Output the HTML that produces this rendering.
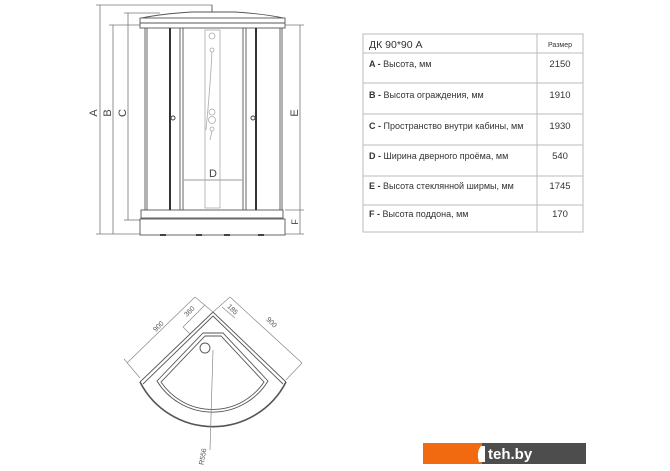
<!DOCTYPE html>
<html><head><meta charset="utf-8"><style>
body{margin:0;background:#fff;}
svg{display:block;font-family:"Liberation Sans",sans-serif;}
</style></head><body>
<svg width="670" height="471" viewBox="0 0 670 471" xmlns="http://www.w3.org/2000/svg">
<g fill="none" stroke="#777" stroke-width="0.8">
<line x1="100" y1="5" x2="100" y2="234"/>
<line x1="96" y1="5" x2="212" y2="5"/>
<line x1="96" y1="234" x2="140" y2="234"/>
<line x1="113" y1="25" x2="113" y2="234"/>
<line x1="109" y1="25" x2="140" y2="25"/>
<line x1="128" y1="13" x2="128" y2="220"/>
<line x1="124" y1="13" x2="160" y2="13"/>
<line x1="124" y1="220" x2="140" y2="220"/>
<line x1="300" y1="25" x2="300" y2="234"/>
<line x1="285" y1="25" x2="304" y2="25"/>
<line x1="285" y1="210" x2="304" y2="210"/>
<line x1="285" y1="234" x2="304" y2="234"/>
<line x1="184" y1="180" x2="242" y2="180"/>
</g>
<g fill="#444" font-size="11">
<text transform="translate(97,113) rotate(-90)" text-anchor="middle">A</text>
<text transform="translate(111,113) rotate(-90)" text-anchor="middle">B</text>
<text transform="translate(126,113) rotate(-90)" text-anchor="middle">C</text>
<text transform="translate(298,113) rotate(-90)" text-anchor="middle">E</text>
<text transform="translate(298,222) rotate(-90)" text-anchor="middle" font-size="9">F</text>
<text x="213" y="177" text-anchor="middle">D</text>
</g>
<g fill="none" stroke="#555" stroke-width="0.9">
<path d="M142 18 Q160 14 192 12 L235 12 Q265 14 283 18"/>
<line x1="212" y1="5" x2="212" y2="12"/>
<rect x="140" y="18" width="145" height="10"/>
<line x1="140" y1="23" x2="285" y2="23"/>
<line x1="145" y1="28" x2="145" y2="210"/>
<line x1="147" y1="28" x2="147" y2="210"/>
<line x1="280" y1="28" x2="280" y2="210"/>
<line x1="282" y1="28" x2="282" y2="210"/>
<line x1="180" y1="28" x2="180" y2="210"/>
<line x1="183" y1="28" x2="183" y2="210"/>
<line x1="243" y1="28" x2="243" y2="210"/>
<line x1="246" y1="28" x2="246" y2="210"/>
<rect x="141" y="210" width="142" height="8"/>
<rect x="140" y="219" width="145" height="16"/>
</g>
<g stroke="#333" stroke-width="2"><line x1="170" y1="28" x2="170" y2="210"/><line x1="256" y1="28" x2="256" y2="210"/></g>
<g fill="none" stroke="#aaa" stroke-width="0.8">
<rect x="205" y="30" width="15" height="178"/>
<circle cx="212" cy="36" r="3"/><circle cx="212" cy="50" r="2"/>
<path d="M212 52 Q210 90 206 130"/>
<circle cx="212" cy="112" r="3"/><circle cx="212" cy="120" r="3.5"/><circle cx="212" cy="129" r="2"/>
<path d="M212 131 L210 140"/>
</g>
<g fill="#fff" stroke="#444"><circle cx="173" cy="118" r="2"/><circle cx="253" cy="118" r="2"/></g>
<g fill="#444"><rect x="160" y="234" width="6" height="2"/><rect x="196" y="234" width="6" height="2"/><rect x="224" y="234" width="6" height="2"/><rect x="258" y="234" width="6" height="2"/></g>
<g fill="none" stroke="#555" stroke-width="0.9">
<path d="M140 382 L213 312 L286 382"/>
<path d="M143 384 L213 316 L283 384"/>
<path d="M140 382 A82 82 0 0 0 286 382" stroke-width="1.6"/>
<path d="M203 333 L223 333 L268 381 A65 65 0 0 1 157 381 Z"/>
<path d="M205 336 L221 336 L264 382 A62 62 0 0 1 161 382 Z"/>
<circle cx="205" cy="348" r="5"/>
</g>
<g fill="none" stroke="#888" stroke-width="0.7">
<line x1="213" y1="350" x2="210" y2="450"/>
<line x1="127" y1="363" x2="195" y2="297"/>
<line x1="195" y1="297" x2="213" y2="312"/>
<line x1="124" y1="359" x2="140" y2="378"/>
<line x1="183" y1="327" x2="205" y2="305"/>
<line x1="183" y1="327" x2="190" y2="334"/>
<line x1="230" y1="297" x2="302" y2="363"/>
<line x1="230" y1="297" x2="213" y2="312"/>
<line x1="302" y1="363" x2="286" y2="380"/>
<line x1="222" y1="307" x2="235" y2="318"/>
</g>
<g fill="#555" font-size="7">
<text transform="translate(160,328) rotate(-45)" text-anchor="middle">900</text>
<text transform="translate(191,313) rotate(-45)" text-anchor="middle">360</text>
<text transform="translate(231,311) rotate(45)" text-anchor="middle">185</text>
<text transform="translate(270,324) rotate(45)" text-anchor="middle">900</text>
<text transform="translate(205,457) rotate(-80)" text-anchor="middle">R556</text>
</g>
<g fill="none" stroke="#bbb" stroke-width="1">
<rect x="363" y="34" width="220" height="198"/>
<line x1="537" y1="34" x2="537" y2="232"/>
<line x1="363" y1="53" x2="583" y2="53"/>
<line x1="363" y1="83" x2="583" y2="83"/>
<line x1="363" y1="114" x2="583" y2="114"/>
<line x1="363" y1="145" x2="583" y2="145"/>
<line x1="363" y1="176" x2="583" y2="176"/>
<line x1="363" y1="205" x2="583" y2="205"/>
</g>
<g fill="#333" font-size="9">
<text x="369" y="48" font-size="10.5">ДК 90*90 А</text>
<text x="560" y="47" text-anchor="middle" font-size="7">Размер</text>
<text x="369" y="67"><tspan font-weight="bold">A -</tspan> Высота, мм</text>
<text x="369" y="98"><tspan font-weight="bold">B -</tspan> Высота ограждения, мм</text>
<text x="369" y="129"><tspan font-weight="bold">C -</tspan> Пространство внутри кабины, мм</text>
<text x="369" y="159"><tspan font-weight="bold">D -</tspan> Ширина дверного проёма, мм</text>
<text x="369" y="189"><tspan font-weight="bold">E -</tspan> Высота стеклянной ширмы, мм</text>
<text x="369" y="217"><tspan font-weight="bold">F -</tspan> Высота поддона, мм</text>
<g text-anchor="middle" font-size="9.5"><text x="560" y="67">2150</text><text x="560" y="98">1910</text><text x="560" y="129">1930</text><text x="560" y="159">540</text><text x="560" y="189">1745</text><text x="560" y="217">170</text></g>
</g>
<rect x="423" y="443" width="59" height="21" fill="#f26a10"/>
<rect x="482" y="443" width="104" height="21" fill="#4d4d4d"/>
<path d="M481 446 Q476 452 479 462 L485 462 L485 446 Z" fill="#fff"/>
<text x="488" y="459" fill="#fff" font-size="15" font-weight="bold">teh.by</text>
</svg>
</body></html>
